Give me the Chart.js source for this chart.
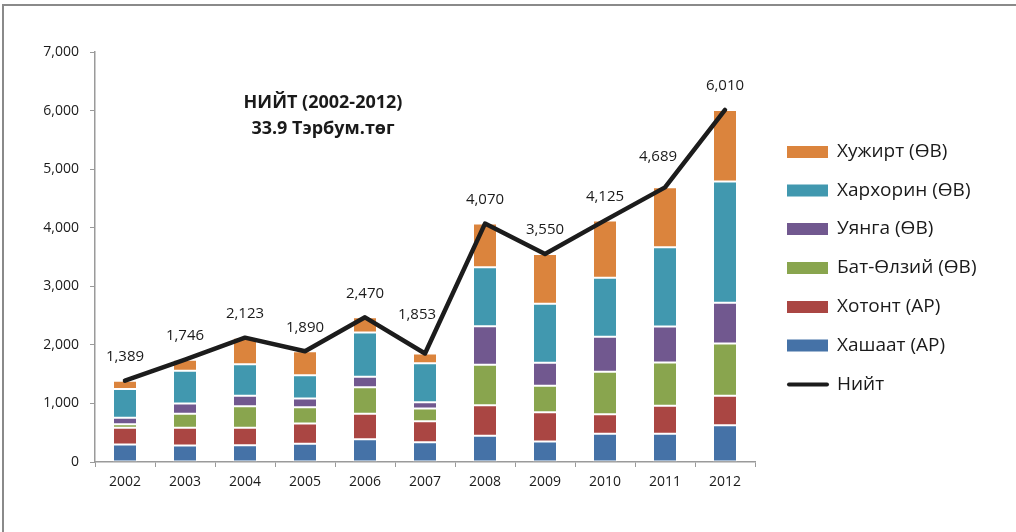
<!DOCTYPE html>
<html>
<head>
<meta charset="utf-8">
<script src="https://cdn.jsdelivr.net/npm/chart.js@4.4.1/dist/chart.umd.min.js"></script>
<style>
  html, body { margin: 0; padding: 0; background: #fff; }
  #wrap { position: absolute; left: 0; top: 0; width: 1016px; height: 532px; }
  #frame { position: absolute; left: 2px; top: 4px; width: 1014px; height: 528px;
           border-top: 2px solid #8a8a8a; border-left: 2px solid #8a8a8a; box-sizing: border-box; }
  canvas { position: absolute; left: 0; top: 0; }
</style>
</head>
<body>
<div id="wrap">
  <div id="frame"></div>
  <canvas id="c" width="1016" height="532"></canvas>
</div>
<script>
const years = ['2002','2003','2004','2005','2006','2007','2008','2009','2010','2011','2012'];
const khashaat   = [300, 282, 287, 311, 389, 338, 447, 350, 481, 481, 628];
const khotont    = [285, 302, 297, 346, 434, 359, 523, 500, 335, 479, 502];
const batUlzii   = [60, 239, 369, 279, 454, 216, 690, 451, 724, 739, 893];
const uyanga     = [110, 176, 177, 148, 178, 108, 659, 393, 598, 614, 695];
const kharkhorin = [490, 558, 540, 398, 756, 666, 1007, 1007, 1007, 1354, 2071];
const khujirt    = [144, 189, 453, 408, 259, 166, 744, 849, 980, 1022, 1221];
const total      = [1389, 1746, 2123, 1890, 2470, 1853, 4070, 3550, 4125, 4689, 6010];
const yTicks     = [0, 1000, 2000, 3000, 4000, 5000, 6000, 7000];
const titleLines = ['НИЙТ (2002-2012)', '33.9 Тэрбум.төг'];

const FONT = "'Open Sans', 'Noto Sans', sans-serif";
const fmt = v => v.toLocaleString('en-US');

function bar(label, data, color) {
  return { type: 'bar', label, data, backgroundColor: color,
           borderColor: 'rgba(255,255,255,0.45)', borderWidth: 1, borderSkipped: false,
           barPercentage: 0.4, categoryPercentage: 1.0, stack: 's', order: 1 };
}

const datasets = [
  bar('Хашаат (АР)', khashaat, '#4572A7'),
  bar('Хотонт (АР)', khotont, '#AA4643'),
  bar('Бат-Өлзий (ӨВ)', batUlzii, '#89A54E'),
  bar('Уянга (ӨВ)', uyanga, '#71588F'),
  bar('Хархорин (ӨВ)', kharkhorin, '#4198AF'),
  bar('Хужирт (ӨВ)', khujirt, '#DB843D'),
  { type: 'line', label: 'Нийт', data: total, borderColor: '#1c1c1c', borderWidth: 4.5,
    pointRadius: 0, tension: 0, order: 0, borderJoinStyle: 'round', borderCapStyle: 'round' }
];

const extras = {
  id: 'extras',
  afterDatasetsDraw(chart) {
    const ctx = chart.ctx;
    const li = chart.data.datasets.length - 1;
    const meta = chart.getDatasetMeta(li);
    // label placement nudges (pixels) for the two labels that sit off-centre
    const nudge = { 5: [-8, -39], 9: [-7, -31] };
    ctx.save();
    ctx.fillStyle = '#1a1a1a';
    ctx.font = '15px ' + FONT;
    ctx.textAlign = 'center';
    ctx.textBaseline = 'middle';
    meta.data.forEach((pt, i) => {
      const n = nudge[i] || [0, -24];
      ctx.fillText(fmt(chart.data.datasets[li].data[i]), pt.x + n[0], pt.y + n[1]);
    });
    ctx.font = 'bold 18px ' + FONT;
    ctx.fillText(titleLines[0], 323, 103);
    ctx.fillText(titleLines[1], 323, 129);
    const order = [5, 4, 3, 2, 1, 0, 6];
    const ys = [152, 190.5, 229, 268, 307, 345.5, 384.5];
    ctx.textAlign = 'left';
    ctx.font = '19px ' + FONT;
    order.forEach((di, k) => {
      const ds = chart.data.datasets[di];
      const y = ys[k];
      if (ds.type === 'line') {
        ctx.strokeStyle = ds.borderColor;
        ctx.lineWidth = 4;
        ctx.lineCap = 'round';
        ctx.beginPath(); ctx.moveTo(789, y); ctx.lineTo(827, y); ctx.stroke();
      } else {
        ctx.fillStyle = ds.backgroundColor;
        ctx.fillRect(787, y - 6, 41, 12);
      }
      ctx.fillStyle = '#1a1a1a';
      ctx.fillText(ds.label, 837, y);
    });
    ctx.restore();
  }
};

new Chart(document.getElementById('c'), {
  data: { labels: years, datasets },
  options: {
    responsive: false,
    animation: false,
    devicePixelRatio: 1,
    layout: { padding: { left: 25, right: 261, top: 52, bottom: 30 } },
    plugins: { legend: { display: false }, tooltip: { enabled: false } },
    scales: {
      x: {
        stacked: true,
        afterFit: s => { s.height = 40; },
        grid: { offset: true, drawOnChartArea: false, drawTicks: true, tickLength: 5, color: '#9a9a9a', lineWidth: 1 },
        border: { display: true, color: '#9a9a9a', width: 1.5 },
        ticks: { color: '#1a1a1a', font: { family: FONT, size: 14 }, padding: 7 }
      },
      y: {
        stacked: true,
        min: 0, max: 7000,
        afterFit: s => { s.width = 70; },
        afterBuildTicks: s => { s.ticks = yTicks.map(v => ({ value: v })); },
        grid: { drawOnChartArea: false, drawTicks: true, tickLength: 5, color: '#9a9a9a', lineWidth: 1 },
        border: { display: true, color: '#9a9a9a', width: 1.5 },
        ticks: { color: '#1a1a1a', font: { family: FONT, size: 14 }, padding: 11, callback: v => fmt(v) }
      }
    }
  },
  plugins: [extras]
});
</script>
</body>
</html>
